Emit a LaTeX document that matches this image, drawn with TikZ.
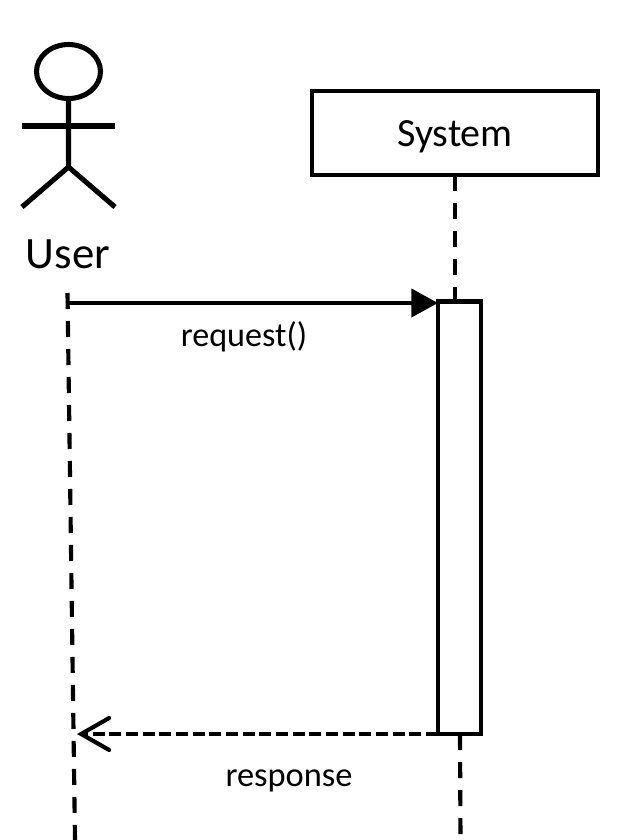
\documentclass[tikz,border=0pt]{standalone}
\usepackage{fontspec}
\setmainfont{Carlito}
\usetikzlibrary{arrows.meta}
\tikzset{
 ln/.style={draw=black,line width=3.2pt},
 thick line/.style={draw=black,line width=3.8pt},
 lifeline/.style={draw=black,line width=3.1pt,dash pattern=on 12pt off 9pt},
 retline/.style={draw=black,line width=3.1pt,dash pattern=on 9pt off 3.5pt},
 box/.style={draw=black,line width=3.3pt,fill=white,inner sep=0pt,outer sep=0pt},
 lbl/.style={inner sep=0pt,text=black},
}
\begin{document}
\begin{tikzpicture}[x=0.75pt,y=-0.75pt]
\useasboundingbox (0,0) rectangle (636,840);
% actor
\draw[thick line] (68.5,71.5) ellipse [x radius=32,y radius=27];
\draw[thick line] (68.5,99) -- (68.5,167) -- (22,207);
\draw[thick line] (68.5,167) -- (115,207);
\draw[thick line] (22,126) -- (115,126);
\node[lbl,font=\fontsize{33.6pt}{36pt}\selectfont] (user) at (68,254.5) {User};
% system
\node[box,minimum width=214.5pt,minimum height=63pt,text height=25.5pt,text depth=5.7pt,font=\fontsize{30pt}{32pt}\selectfont] (sys) at (455,133) {System};
\coordinate (sysA) at (455,301);
\coordinate (u0) at (67.5,293);
\coordinate (u1) at (75,840);
\coordinate (s1) at (460,734);
\coordinate (s2) at (460.5,840);
% lifelines
\draw[lifeline] (sys.south) -- (sysA);
\draw[lifeline] (u0) -- (u1);
% activation
\node[box,minimum width=32.25pt,minimum height=324.4pt,anchor=north west] (act) at (438,301.5) {};
\draw[lifeline] (s1) -- (s2);
% messages
\coordinate (m0) at (68,303);
\draw[ln,-{Triangle[length=20pt,width=21pt]}] (m0) -- (act.west |- m0);
\node[lbl,font=\fontsize{25.6pt}{27pt}\selectfont] (req) at (244,337) {request()};
\coordinate (m1) at (77,734);
\draw[retline,-{Straight Barb[length=21pt,width=24pt,line width=3.1pt,line cap=round]}] (act.west |- m1) -- (m1);
\node[lbl,font=\fontsize{25.8pt}{27pt}\selectfont] (resp) at (289,781) {response};
\end{tikzpicture}
\end{document}
